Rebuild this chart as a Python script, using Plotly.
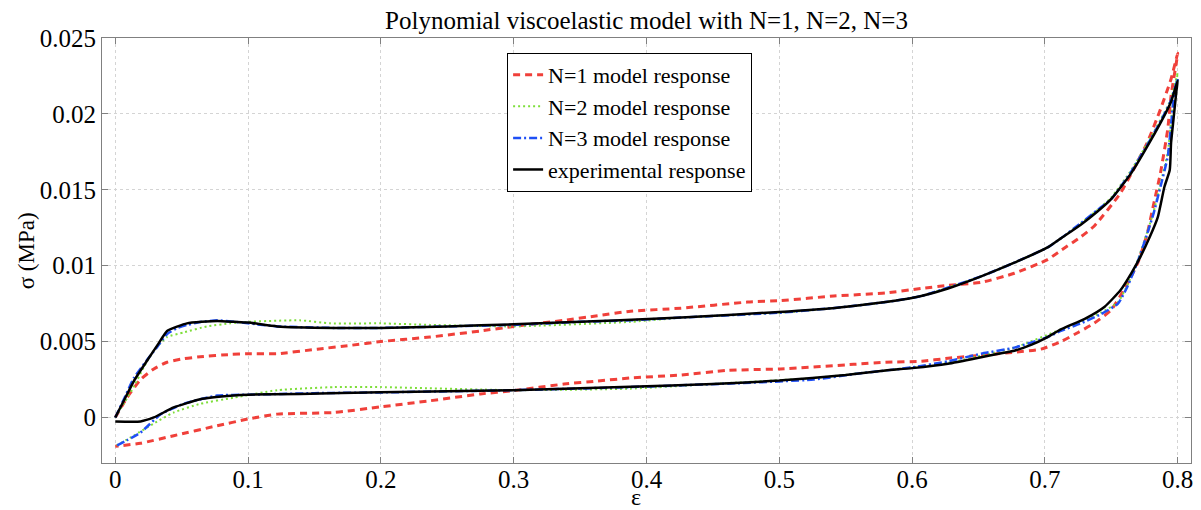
import plotly.graph_objects as go

# ---- data (strain, stress in MPa), loading then unloading ----
exp_strain = [0, 0.007, 0.014, 0.024, 0.032, 0.039, 0.047, 0.054, 0.065, 0.077, 0.09, 0.1, 0.122, 0.165, 0.2, 0.25,
              0.3, 0.35, 0.38, 0.43, 0.5, 0.54, 0.58, 0.6016, 0.627, 0.652, 0.677, 0.702, 0.712, 0.727, 0.74, 0.75, 0.765, 0.78, 0.79, 0.795, 0.8,
              0.799, 0.797, 0.795, 0.794, 0.79, 0.785, 0.779, 0.772, 0.765, 0.757, 0.745, 0.73, 0.712, 0.702, 0.69, 0.677, 0.665, 0.652,
              0.627, 0.60, 0.58, 0.55, 0.5, 0.45, 0.388, 0.3, 0.2, 0.139, 0.1, 0.089, 0.064, 0.044, 0.029, 0.019, 0]
exp_stress = [0, 0.0012, 0.0024, 0.00375, 0.0048, 0.0057, 0.006, 0.0062, 0.0063, 0.00636, 0.0063, 0.00625, 0.006, 0.0059, 0.0059, 0.006,
              0.00614, 0.0063, 0.0064, 0.0066, 0.00695, 0.0072, 0.0076, 0.0079, 0.0085, 0.0093, 0.0102, 0.0112, 0.0118, 0.0127, 0.0136, 0.0144, 0.0161, 0.0183, 0.0199, 0.0208, 0.0222,
              0.0215, 0.0198, 0.0181, 0.0163, 0.0152, 0.0132, 0.0119, 0.0106, 0.0095, 0.0084, 0.0073, 0.0065, 0.0058, 0.0053, 0.0048, 0.0044, 0.0042, 0.00397,
              0.00354, 0.00325, 0.0031, 0.0028, 0.00243, 0.0022, 0.00203, 0.0018, 0.00166, 0.00155, 0.0015, 0.00144, 0.0012, 0.00066, 0, -0.00026, -0.00026]

n1_strain = [0, 0.0088, 0.019, 0.029, 0.039, 0.0515, 0.064, 0.0867, 0.1, 0.122, 0.152, 0.177, 0.2, 0.237, 0.275, 0.3, 0.338, 0.363,
             0.388, 0.426, 0.476, 0.501, 0.541, 0.58, 0.607, 0.627, 0.652, 0.677, 0.702, 0.712, 0.727, 0.737, 0.757, 0.777, 0.787, 0.795, 0.8,
             0.799, 0.795, 0.7925, 0.787, 0.782, 0.777, 0.77, 0.762, 0.75, 0.737, 0.725, 0.712, 0.697, 0.677, 0.652, 0.627, 0.607,
             0.58, 0.556, 0.501, 0.461, 0.426, 0.388, 0.363, 0.338, 0.3, 0.275, 0.237, 0.2, 0.165, 0.122, 0.1, 0.0766, 0.044, 0.019, 0]
n1_stress = [0, 0.0013, 0.0025, 0.0032, 0.00364, 0.00387, 0.004, 0.00415, 0.0042, 0.0042, 0.0045, 0.00475, 0.005, 0.0053, 0.0057, 0.006, 0.0064, 0.0067,
             0.007, 0.0072, 0.0076, 0.0077, 0.008, 0.0082, 0.0085, 0.0087, 0.0089, 0.0095, 0.0104, 0.011, 0.0119, 0.0126, 0.0148, 0.0181, 0.0203, 0.0223, 0.024,
             0.0234, 0.0212, 0.019, 0.0161, 0.0141, 0.0121, 0.0102, 0.0088, 0.0071, 0.0062, 0.0056, 0.0050, 0.0045, 0.0043, 0.0041, 0.0039, 0.0037,
             0.00364, 0.0035, 0.0032, 0.0031, 0.0028, 0.0026, 0.0024, 0.0022, 0.00177, 0.00155, 0.0011, 0.0007, 0.00033, 0.00022, -0.0001, -0.00055, -0.0012, -0.0017, -0.0019]

n2_strain = [0, 0.007, 0.0138, 0.0214, 0.029, 0.039, 0.0515, 0.069, 0.0867, 0.1, 0.139, 0.162, 0.2, 0.237, 0.3, 0.388, 0.43, 0.5,
             0.54, 0.58, 0.607, 0.652, 0.677, 0.702, 0.712, 0.727, 0.74, 0.75, 0.765, 0.78, 0.79, 0.795, 0.8,
             0.797, 0.7925, 0.787, 0.782, 0.777, 0.77, 0.762, 0.755, 0.742, 0.727, 0.712, 0.677, 0.627, 0.6, 0.526, 0.468,
             0.388, 0.3, 0.2, 0.165, 0.122, 0.089, 0.064, 0.044, 0.029, 0.0138, 0]
n2_stress = [0, 0.001, 0.002, 0.0033, 0.0044, 0.0053, 0.0056, 0.006, 0.0062, 0.0063, 0.0064, 0.0062, 0.0062, 0.0061, 0.006, 0.0063, 0.0066, 0.0069,
             0.0072, 0.0076, 0.0080, 0.0093, 0.0102, 0.0112, 0.0118, 0.0128, 0.0137, 0.0145, 0.0163, 0.0185, 0.0201, 0.021, 0.0227,
             0.0212, 0.0175, 0.0154, 0.0136, 0.0122, 0.0104, 0.0087, 0.0076, 0.0069, 0.0063, 0.0058, 0.0046, 0.0036, 0.0033, 0.0026, 0.0023,
             0.0019, 0.0018, 0.002, 0.002, 0.0018, 0.0013, 0.0009, 0.00033, -0.0004, -0.0012, -0.0019]

n3_strain = [0, 0.007, 0.014, 0.024, 0.032, 0.039, 0.047, 0.054, 0.065, 0.077, 0.09, 0.1, 0.122, 0.165, 0.2, 0.25, 0.3, 0.35,
             0.388, 0.43, 0.5, 0.54, 0.58, 0.607, 0.652, 0.677, 0.702, 0.712, 0.727, 0.74, 0.75, 0.765, 0.78, 0.79, 0.795, 0.8,
             0.797, 0.7925, 0.787, 0.782, 0.777, 0.77, 0.762, 0.755, 0.742, 0.727, 0.712, 0.702, 0.677, 0.652, 0.627, 0.6,
             0.56, 0.526, 0.468, 0.42, 0.388, 0.3, 0.2, 0.15, 0.1, 0.0766, 0.0515, 0.034, 0.019, 0.0088, 0]
n3_stress = [0, 0.0013, 0.0026, 0.0038, 0.0047, 0.0055, 0.0059, 0.0061, 0.0063, 0.0064, 0.0063, 0.0062, 0.006, 0.0059, 0.0059, 0.006, 0.0061, 0.0063,
             0.0064, 0.0066, 0.0069, 0.0072, 0.0076, 0.0080, 0.0093, 0.0102, 0.0112, 0.0118, 0.0128, 0.0137, 0.0144, 0.0162, 0.0184, 0.02, 0.0209, 0.0223,
             0.021, 0.0172, 0.0152, 0.0135, 0.0121, 0.0103, 0.0086, 0.0075, 0.0068, 0.0062, 0.0057, 0.0053, 0.0046, 0.0042, 0.0037, 0.0033,
             0.0029, 0.0025, 0.00225, 0.0021, 0.002, 0.0018, 0.00165, 0.0016, 0.0015, 0.00144, 0.0009, 0.0002, -0.001, -0.0015, -0.0019]

x_ticks = [0, 0.1, 0.2, 0.3, 0.4, 0.5, 0.6, 0.7, 0.8]
x_ticktext = ["0", "0.1", "0.2", "0.3", "0.4", "0.5", "0.6", "0.7", "0.8"]
y_ticks = [0, 0.005, 0.01, 0.015, 0.02, 0.025]
y_ticktext = ["0", "0.005", "0.01", "0.015", "0.02", "0.025"]

FONT = "Liberation Serif"

fig = go.Figure()
fig.add_trace(go.Scatter(x=n1_strain, y=n1_stress, mode="lines", name="N=1 model response",
                         line=dict(color="#f0403a", width=3, dash="7px,5px", shape="spline", smoothing=0.5)))
fig.add_trace(go.Scatter(x=n2_strain, y=n2_stress, mode="lines", name="N=2 model response",
                         line=dict(color="#7ede3a", width=2, dash="2px,3px", shape="spline", smoothing=0.5)))
fig.add_trace(go.Scatter(x=n3_strain, y=n3_stress, mode="lines", name="N=3 model response",
                         line=dict(color="#1f4ff5", width=2.5, dash="8px,3px,2px,3px", shape="spline", smoothing=0.5)))
fig.add_trace(go.Scatter(x=exp_strain, y=exp_stress, mode="lines", name="experimental response",
                         line=dict(color="black", width=2.5, shape="spline", smoothing=0.5)))

axis_common = dict(showline=True, linecolor="#808080", linewidth=1, mirror="ticks",
                   ticks="inside", ticklen=6, tickcolor="#808080", automargin=False,
                   ticklabeloverflow="allow",
                   showgrid=True, gridcolor="#d4d4d4", griddash="dot", gridwidth=1,
                   zeroline=False, tickfont=dict(family=FONT, size=25, color="black"))

fig.update_layout(
    template="none",
    width=1201, height=510,
    margin=dict(l=102, r=10, t=38, b=47, pad=0),
    paper_bgcolor="white", plot_bgcolor="white",
    font=dict(family=FONT, color="black"),
    title=dict(text="Polynomial viscoelastic model with N=1, N=2, N=3",
               x=0.5, xref="paper", xanchor="center",
               y=1 - 20 / 510, yref="container", yanchor="middle",
               font=dict(family=FONT, size=25, color="black")),
    xaxis=dict(range=[-0.01, 0.81], tickvals=x_ticks, ticktext=x_ticktext,
               ticklabelstandoff=-6, **axis_common),
    yaxis=dict(range=[-0.003, 0.025], tickvals=y_ticks, ticktext=y_ticktext, **axis_common),
    legend=dict(x=0.372, y=0.965, xanchor="left", yanchor="top",
                bgcolor="white", bordercolor="black", borderwidth=1,
                font=dict(family=FONT, size=22, color="black"),
                itemwidth=30, tracegroupgap=0),
    showlegend=True,
    annotations=[
        dict(text="ε", xref="paper", yref="paper", x=0.49, y=-0.08,
             xanchor="center", yanchor="middle", showarrow=False,
             font=dict(family=FONT, size=24, color="black")),
        dict(text="σ (MPa)", xref="paper", yref="paper", x=-0.069, y=0.5,
             xanchor="center", yanchor="middle", textangle=-90, showarrow=False,
             font=dict(family=FONT, size=23, color="black")),
    ],
)

fig.write_html("out.html", config={"displayModeBar": False},
               post_script="document.body.style.margin='0';document.body.style.overflow='hidden';")
